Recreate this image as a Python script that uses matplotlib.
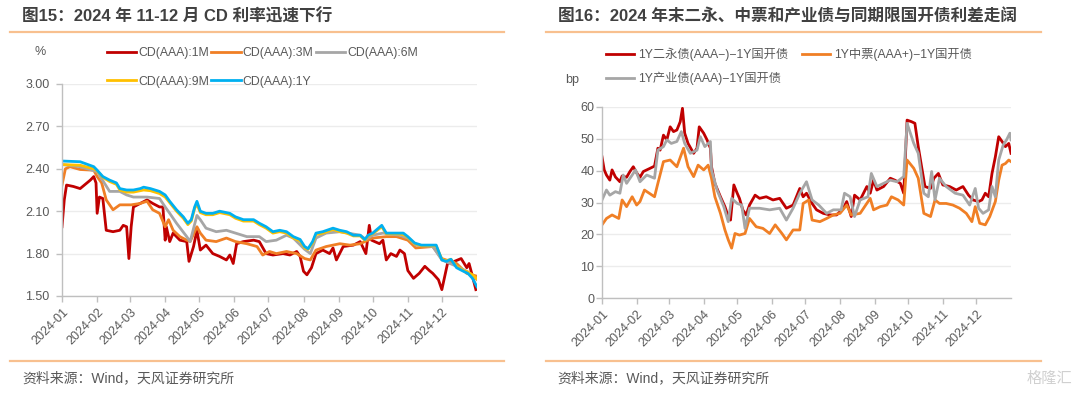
import numpy as np
import matplotlib
matplotlib.use("Agg")
import matplotlib.pyplot as plt
from matplotlib.lines import Line2D

plt.rcParams['font.family'] = ['Liberation Sans', 'Noto Sans CJK SC', 'DejaVu Sans']

# ---------------- data: left chart (CD rates, %) ----------------
cd1m_day = [0, 2, 4, 10, 16, 22, 25, 28, 30, 31, 33, 36, 39, 45, 51, 54, 57, 59, 61, 63, 69, 75, 80, 86, 89, 91, 92,
            95, 98, 104, 110, 112, 116, 119, 122, 127, 133, 139, 145, 148, 151, 154, 160, 169, 174, 180, 186, 195,
            201, 207, 210, 213, 216, 220, 224, 230, 236, 239, 242, 248, 257, 263, 268, 271, 273, 280, 283, 286, 290,
            295, 298, 302, 305, 310, 315, 320, 324, 327, 332, 335, 340, 346, 352, 357, 359, 362, 365]
cd1m_val = [1.99, 2.18, 2.285, 2.275, 2.26, 2.30, 2.32, 2.345, 2.30, 2.085, 2.20, 2.19, 1.965, 1.955, 1.965, 2.00, 1.99,
            1.765, 1.99, 2.13, 2.155, 2.18, 2.155, 2.13, 2.13, 1.895, 1.99, 1.885, 1.945, 1.895, 1.885, 1.745, 1.85,
            1.965, 1.825, 1.86, 1.80, 1.78, 1.755, 1.79, 1.73, 1.87, 1.885, 1.895, 1.885, 1.80, 1.79, 1.80, 1.79,
            1.815, 1.78, 1.675, 1.65, 1.70, 1.80, 1.825, 1.80, 1.84, 1.755, 1.85, 1.86, 1.885, 1.80, 2.00, 1.895,
            1.87, 1.895, 1.755, 1.80, 1.78, 1.825, 1.80, 1.68, 1.625, 1.66, 1.71, 1.68, 1.66, 1.615, 1.545, 1.73,
            1.745, 1.765, 1.70, 1.73, 1.64, 1.545]

cd3m_day = [0, 3, 7, 16, 28, 31, 35, 39, 45, 51, 61, 69, 75, 80, 86, 91, 94, 98, 104, 110, 113, 119, 122, 127, 136,
            145, 153, 163, 172, 177, 183, 189, 198, 207, 214, 219, 224, 233, 245, 254, 263, 274, 286, 295, 305, 312,
            327, 335, 348, 357, 366]
cd3m_val = [2.285, 2.40, 2.415, 2.395, 2.39, 2.345, 2.30, 2.18, 2.11, 2.145, 2.145, 2.155, 2.17, 2.11, 2.085, 1.99,
            2.04, 1.965, 1.92, 1.895, 1.885, 1.99, 1.945, 1.895, 1.885, 1.91, 1.885, 1.87, 1.85, 1.79, 1.815, 1.80,
            1.815, 1.80, 1.765, 1.755, 1.825, 1.85, 1.87, 1.86, 1.87, 1.91, 1.92, 1.92, 1.895, 1.84, 1.85, 1.765,
            1.73, 1.66, 1.64]

cd6m_day = [0, 16, 31, 42, 51, 57, 63, 75, 86, 91, 95, 101, 110, 113, 119, 122, 127, 136, 145, 153, 163, 174, 180,
            189, 198, 204, 214, 219, 224, 233, 245, 263, 268, 274, 283, 298, 305, 312, 327, 335, 348, 357, 366]
cd6m_val = [2.43, 2.415, 2.38, 2.24, 2.24, 2.215, 2.20, 2.20, 2.19, 2.13, 2.085, 2.015, 1.92, 1.885, 2.07, 2.04, 1.98,
            1.955, 1.965, 1.945, 1.92, 1.92, 1.885, 1.895, 1.93, 1.91, 1.83, 1.80, 1.91, 1.945, 1.955, 1.93, 1.90,
            1.93, 1.945, 1.93, 1.91, 1.86, 1.85, 1.755, 1.71, 1.675, 1.615]

cd9m_day = [0, 16, 28, 31, 36, 42, 48, 51, 57, 63, 72, 78, 86, 91, 95, 101, 107, 111, 114, 117, 119, 122, 127, 133,
            139, 148, 153, 160, 169, 174, 180, 186, 192, 198, 204, 210, 214, 217, 221, 224, 230, 239, 245, 251, 257,
            263, 267, 270, 274, 282, 286, 295, 301, 305, 311, 317, 324, 330, 335, 339, 343, 348, 354, 358, 362, 366]
cd9m_val = [2.43, 2.425, 2.40, 2.385, 2.34, 2.31, 2.29, 2.25, 2.235, 2.235, 2.25, 2.245, 2.225, 2.20, 2.16, 2.10,
            2.05, 2.005, 2.03, 2.12, 2.15, 2.09, 2.075, 2.075, 2.09, 2.075, 2.05, 2.03, 2.03, 2.005, 1.98, 1.945,
            1.955, 1.945, 1.91, 1.89, 1.84, 1.83, 1.875, 1.935, 1.945, 1.97, 1.955, 1.945, 1.925, 1.925, 1.895,
            1.925, 1.94, 1.99, 1.94, 1.94, 1.935, 1.915, 1.87, 1.855, 1.855, 1.855, 1.76, 1.75, 1.76, 1.71, 1.68,
            1.67, 1.65, 1.62]

cd1y_day = [0, 16, 28, 31, 36, 42, 48, 51, 57, 63, 69, 72, 78, 86, 91, 95, 101, 107, 111, 114, 117, 119, 122, 127,
            133, 139, 148, 153, 160, 169, 174, 180, 186, 192, 198, 204, 210, 214, 217, 221, 224, 230, 239, 245, 251,
            257, 263, 267, 270, 274, 282, 286, 295, 301, 305, 311, 317, 324, 330, 335, 339, 343, 348, 354, 358, 362,
            366]
cd1y_val = [2.455, 2.45, 2.415, 2.39, 2.345, 2.32, 2.30, 2.26, 2.25, 2.25, 2.26, 2.27, 2.26, 2.24, 2.215, 2.17, 2.11,
            2.06, 2.015, 2.04, 2.13, 2.17, 2.10, 2.085, 2.085, 2.10, 2.085, 2.06, 2.04, 2.04, 2.015, 1.99, 1.955,
            1.965, 1.955, 1.92, 1.90, 1.85, 1.835, 1.885, 1.945, 1.955, 1.98, 1.965, 1.955, 1.93, 1.93, 1.90, 1.93,
            1.945, 2.00, 1.945, 1.945, 1.945, 1.92, 1.875, 1.86, 1.86, 1.86, 1.755, 1.745, 1.76, 1.70, 1.675, 1.66,
            1.625, 1.565]

# ---------------- data: right chart (spreads, bp) ----------------
ey_day = [0, 2, 4, 7, 9, 12, 16, 18, 22, 25, 28, 31, 34, 37, 43, 47, 50, 52, 55, 58, 61, 64, 67, 70, 72, 74, 77, 82,
          85, 87, 91, 94, 97, 98, 101, 106, 110, 113, 115, 118, 121, 123, 126, 129, 132, 137, 141, 147, 153, 159,
          165, 171, 177, 180, 183, 188, 192, 198, 204, 210, 216, 219, 223, 226, 231, 237, 240, 243, 246, 252, 258,
          262, 267, 270, 273, 277, 280, 283, 286, 289, 294, 297, 301, 305, 311, 317, 323, 328, 332, 337, 340, 343,
          346, 349, 352, 355, 358, 361, 364, 366]
ey_val = [44.3, 40.2, 38.6, 37.0, 40.2, 38.0, 36.5, 38.3, 37.9, 39.7, 41.2, 39.3, 37.9, 39.7, 40.7, 41.4, 47.0, 46.4,
          51.1, 49.6, 53.7, 52.2, 52.7, 55.3, 59.5, 51.7, 48.5, 45.4, 47.0, 53.7, 51.7, 49.6, 47.0, 41.2, 36.0, 31.8,
          28.7, 25.6, 24.5, 35.5, 32.9, 31.3, 27.7, 26.1, 29.2, 32.3, 31.3, 31.8, 30.8, 31.3, 28.2, 29.2, 34.4, 31.8,
          32.9, 29.7, 27.7, 26.6, 26.1, 26.1, 28.2, 30.3, 25.6, 32.3, 30.8, 35.0, 32.9, 37.0, 33.9, 35.0, 37.6, 37.0,
          36.0, 32.9, 55.8, 55.3, 54.8, 47.5, 41.2, 35.0, 34.4, 37.6, 39.1, 35.5, 35.0, 33.9, 35.0, 32.3, 30.8, 30.3,
          30.8, 32.9, 31.8, 39.1, 44.3, 50.6, 49.1, 47.5, 48.5, 45.4]

zp_day = [0, 4, 9, 15, 18, 22, 27, 31, 34, 38, 47, 50, 55, 61, 67, 73, 77, 82, 86, 91, 95, 98, 101, 106, 110, 113,
          116, 119, 123, 128, 132, 138, 144, 150, 155, 161, 165, 171, 177, 180, 185, 188, 195, 201, 207, 213, 219,
          223, 231, 240, 243, 249, 255, 259, 265, 270, 273, 279, 283, 288, 294, 298, 302, 308, 314, 320, 326, 331,
          334, 338, 343, 347, 352, 355, 358, 361, 364, 366]
zp_val = [23.0, 25.0, 26.1, 25.0, 30.8, 28.7, 31.8, 29.2, 30.3, 33.9, 31.8, 36.0, 42.8, 43.3, 41.2, 47.0, 41.2, 38.1,
          41.7, 40.2, 41.7, 37.6, 31.8, 26.6, 21.4, 18.3, 15.7, 20.3, 19.8, 20.3, 25.0, 22.4, 21.9, 20.3, 23.0, 20.3,
          18.3, 21.4, 21.4, 29.7, 30.8, 24.5, 24.0, 25.0, 26.1, 26.6, 29.2, 26.1, 26.6, 31.3, 27.7, 28.7, 29.2, 31.8,
          30.8, 29.2, 43.3, 40.7, 37.6, 26.6, 25.6, 30.8, 29.7, 29.7, 29.2, 28.2, 26.6, 24.0, 28.7, 23.5, 23.0, 25.6,
          30.3, 37.0, 41.7, 42.2, 43.3, 42.8]

cy_day = [0, 4, 7, 12, 16, 19, 22, 27, 30, 34, 40, 47, 50, 55, 58, 62, 67, 71, 74, 79, 85, 88, 92, 97, 98, 103, 109,
          113, 116, 121, 125, 128, 132, 141, 150, 159, 165, 171, 177, 183, 188, 194, 201, 207, 214, 217, 222, 226,
          231, 238, 241, 246, 252, 258, 264, 270, 273, 279, 283, 288, 292, 295, 298, 302, 308, 316, 323, 329, 334,
          337, 341, 346, 349, 352, 355, 359, 362, 365, 366]
cy_val = [30.8, 33.9, 32.3, 33.4, 32.9, 38.6, 36.0, 38.6, 40.2, 36.5, 38.6, 37.6, 46.4, 47.5, 49.6, 48.5, 49.1, 52.2,
          48.5, 45.4, 46.4, 50.6, 47.5, 49.1, 40.2, 33.9, 28.7, 24.0, 31.3, 29.7, 29.2, 21.9, 28.2, 28.2, 27.7, 28.2,
          24.5, 28.2, 32.9, 36.5, 30.8, 29.2, 26.6, 27.7, 27.7, 32.9, 31.8, 25.6, 30.8, 31.8, 39.1, 35.0, 36.0, 37.0,
          36.5, 38.1, 54.8, 48.5, 45.4, 32.9, 31.8, 39.7, 30.8, 37.6, 35.0, 32.9, 32.3, 29.2, 34.4, 28.2, 26.6, 27.7,
          35.0, 31.8, 43.3, 48.0, 49.6, 51.7, 49.6]

left_names = ['CD(AAA):1M', 'CD(AAA):3M', 'CD(AAA):6M', 'CD(AAA):9M', 'CD(AAA):1Y']
right_names = ['1Y二永债(AAA−)−1Y国开债', '1Y中票(AAA+)−1Y国开债', '1Y产业债(AAA)−1Y国开债']
left_ticks = [1.5, 1.8, 2.1, 2.4, 2.7, 3.0]
right_ticks = [0, 10, 20, 30, 40, 50, 60]

title_left = '图15：2024 年 11-12 月 CD 利率迅速下行'
title_right = '图16：2024 年末二永、中票和产业债与同期限国开债利差走阔'
source_text = '资料来源：Wind，天风证券研究所'

# ---------------- styling ----------------
C_RED, C_ORG, C_GRY, C_YEL, C_BLU = '#C00000', '#F07F25', '#A6A6A6', '#FFC000', '#00B0F0'
TXT = '#595959'
SPINE = '#BFBFBF'
GRID = '#ECECEC'
SEP = '#F8C08F'

base = np.datetime64('2024-01-01')


def to_dates(days):
    return base + np.array(days).astype('timedelta64[D]')


fig = plt.figure(figsize=(10.8, 3.93), dpi=100)
fig.patch.set_facecolor('white')

axL = fig.add_axes([62 / 1080, 1 - 296 / 393, 415 / 1080, 212 / 393])
axR = fig.add_axes([602 / 1080, 1 - 298.3 / 393, 409 / 1080, 191.6 / 393])

month_ticks = np.arange('2024-01', '2025-01', dtype='datetime64[M]').astype('datetime64[D]')


def style_axis(ax, yticks, fmt, ypad):
    for s in ['top', 'right']:
        ax.spines[s].set_visible(False)
    for s in ['left', 'bottom']:
        ax.spines[s].set_color(SPINE)
        ax.spines[s].set_linewidth(1.0)
    ax.set_yticks(yticks)
    ax.set_yticklabels([fmt.format(v) for v in yticks])
    ax.set_ylim(yticks[0], yticks[-1])
    ax.set_xlim(base, np.datetime64('2025-01-01'))
    ax.set_xticks(month_ticks)
    ax.set_xticklabels([str(m)[:7] for m in month_ticks], rotation=45, ha='right',
                       rotation_mode='anchor')
    ax.tick_params(axis='both', colors=SPINE, labelcolor=TXT, labelsize=9, length=4, width=1)
    ax.tick_params(axis='y', pad=ypad)
    ax.tick_params(axis='x', pad=3)
    ax.grid(axis='y', color=GRID, linewidth=1.0)
    ax.set_axisbelow(True)


style_axis(axL, left_ticks, '{:.2f}', 5)
style_axis(axR, right_ticks, '{:d}', 1.5)

lw = 2.0
hl = []
hl.append(axL.plot(to_dates(cd1m_day), cd1m_val, color=C_RED, lw=lw, label=left_names[0])[0])
hl.append(axL.plot(to_dates(cd3m_day), cd3m_val, color=C_ORG, lw=lw, label=left_names[1])[0])
hl.append(axL.plot(to_dates(cd6m_day), cd6m_val, color=C_GRY, lw=lw, label=left_names[2])[0])
hl.append(axL.plot(to_dates(cd9m_day), cd9m_val, color=C_YEL, lw=lw, label=left_names[3])[0])
hl.append(axL.plot(to_dates(cd1y_day), cd1y_val, color=C_BLU, lw=lw, label=left_names[4])[0])

hr = []
hr.append(axR.plot(to_dates(ey_day), ey_val, color=C_RED, lw=lw, label=right_names[0])[0])
hr.append(axR.plot(to_dates(zp_day), zp_val, color=C_ORG, lw=lw, label=right_names[1])[0])
hr.append(axR.plot(to_dates(cy_day), cy_val, color=C_GRY, lw=lw, label=right_names[2])[0])

# legends (reordered so rows read left-to-right)
legL = fig.legend([hl[0], hl[3], hl[1], hl[4], hl[2]],
                  [left_names[0], left_names[3], left_names[1], left_names[4], left_names[2]],
                  ncol=3, loc='upper left', bbox_to_anchor=(107 / 1080, 1 - 47 / 393),
                  frameon=False, fontsize=8.8, handlelength=2.4, handletextpad=0.15,
                  columnspacing=0.2, labelspacing=1.35, borderpad=0, borderaxespad=0)
for t in legL.get_texts():
    t.set_color(TXT)

legR = fig.legend([hr[0], hr[2], hr[1]], [right_names[0], right_names[2], right_names[1]],
                  ncol=2, loc='upper left', bbox_to_anchor=(606 / 1080, 1 - 48 / 393),
                  frameon=False, fontsize=8.8, handlelength=2.3, handletextpad=0.35,
                  columnspacing=1.1, labelspacing=0.85, borderpad=0, borderaxespad=0,
                  prop={'family': ['Liberation Sans', 'Noto Sans CJK SC'], 'size': 8.8})
for t in legR.get_texts():
    t.set_color(TXT)

# unit labels
fig.text(40 / 1080, 1 - 52 / 393, '%', color=TXT, fontsize=9, ha='center', va='center')
fig.text(572 / 1080, 1 - 80 / 393, 'bp', color=TXT, fontsize=9, ha='center', va='center')

# titles
tfam = ['Liberation Sans', 'Noto Sans CJK SC']
fig.text(22 / 1080, 1 - 16 / 393, title_left, fontsize=12, fontweight='bold', color='#404040',
         ha='left', va='center', family=tfam)
fig.text(558 / 1080, 1 - 16 / 393, title_right, fontsize=12, fontweight='bold', color='#404040',
         ha='left', va='center', family=tfam)

# separator lines
for x0, x1 in [(10, 504), (546, 1041)]:
    for yy in [32, 360.5]:
        fig.add_artist(Line2D([x0 / 1080, x1 / 1080], [1 - yy / 393, 1 - yy / 393],
                              color=SEP, lw=1.6, transform=fig.transFigure))

# sources
fig.text(22 / 1080, 1 - 378 / 393, source_text, fontsize=10, color=TXT, ha='left', va='center', family=tfam)
fig.text(557 / 1080, 1 - 378 / 393, source_text, fontsize=10, color=TXT, ha='left', va='center', family=tfam)

# watermark
fig.text(1072 / 1080, 1 - 378 / 393, '格隆汇', fontsize=11, color='#D0D0D0', ha='right', va='center',
         family=['Noto Sans CJK SC'])

fig.savefig('out.png', dpi=100, facecolor='white')
